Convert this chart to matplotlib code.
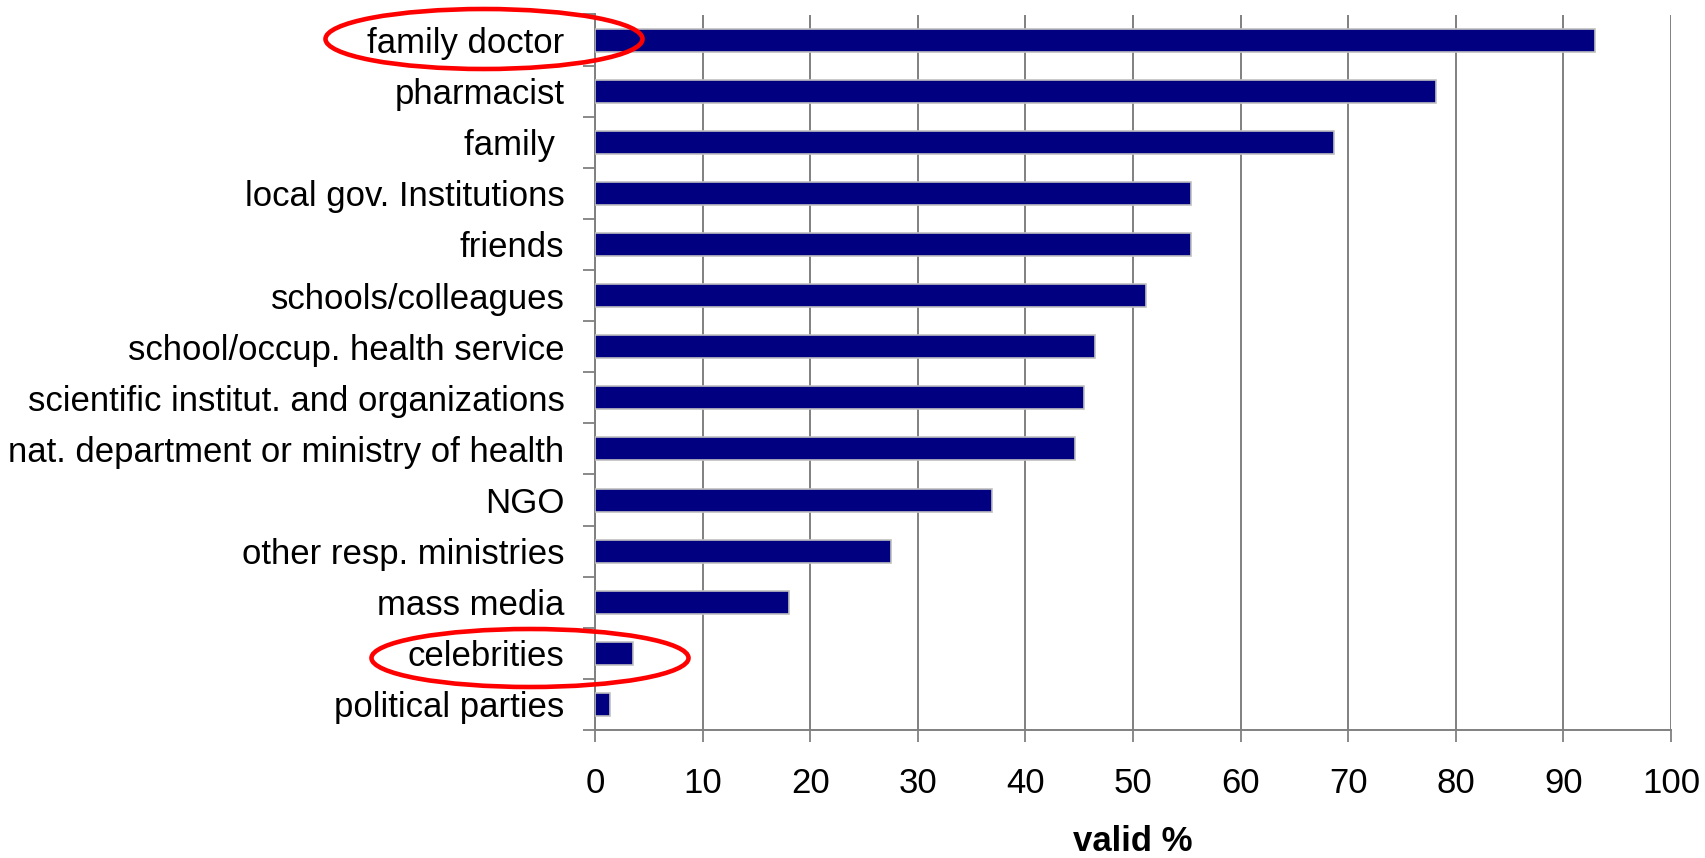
import matplotlib
matplotlib.use("Agg")
import matplotlib.pyplot as plt
from matplotlib.patches import Ellipse
from matplotlib.ticker import FixedLocator

categories = [
    "family doctor",
    "pharmacist",
    "family ",
    "local gov. Institutions",
    "friends",
    "schools/colleagues",
    "school/occup. health service",
    "scientific institut. and organizations",
    "nat. department or ministry of health",
    "NGO",
    "other resp. ministries",
    "mass media",
    "celebrities",
    "political parties",
]
values = [92.9, 78.2, 68.7, 55.4, 55.4, 51.2, 46.5, 45.4, 44.6, 36.9, 27.5, 18.0, 3.5, 1.4]
x_ticks = [0, 10, 20, 30, 40, 50, 60, 70, 80, 90, 100]
x_label = "valid %"

plt.rcParams['font.family'] = ['Liberation Sans', 'DejaVu Sans']

W, H = 1705, 858
fig = plt.figure(figsize=(W / 100, H / 100), dpi=100)
ax = fig.add_axes([595 / W, 1 - 730 / H, (1671 - 595) / W, (730 - 14.5) / H])

grey = "#808080"
n = len(categories)
pos = list(range(n))
ax.barh(pos, values, height=0.45, color="#000080", edgecolor="#c0c0c0",
        linewidth=1.2, zorder=3)

ax.set_ylim(n - 0.5, -0.5)
ax.set_xlim(0, 100)
ax.set_yticks(pos)
ax.set_yticklabels(categories, fontsize=25)
ax.yaxis.set_minor_locator(FixedLocator([i - 0.5 for i in range(n + 1)]))
ax.tick_params(axis='y', which='major', length=0, pad=22)
ax.tick_params(axis='y', which='minor', length=8.6, width=1.3, color=grey)
ax.set_xticks(x_ticks)
ax.set_xticklabels([str(t) for t in x_ticks], fontsize=25)
ax.tick_params(axis='x', which='major', length=8.6, width=1.3, color=grey, pad=18)

ax.set_axisbelow(True)
ax.grid(axis='x', color=grey, linewidth=1.4, zorder=0)
ax.grid(axis='y', visible=False)

for s in ['top', 'right']:
    ax.spines[s].set_visible(False)
for s in ['left', 'bottom']:
    ax.spines[s].set_color(grey)
    ax.spines[s].set_linewidth(1.4)

ax.set_xlabel(x_label, fontsize=25, fontweight='bold', labelpad=18)

# highlight ellipses (figure pixel coordinates -> fractions)
ell_specs = [
    (484, 39, 317, 60),
    (530, 658, 317, 58),
]
for cx, cy, w, h in ell_specs:
    e = Ellipse((cx / W, 1 - cy / H), w / W, h / H, transform=fig.transFigure,
                fill=False, edgecolor="#ff0000", linewidth=3.3, zorder=10)
    fig.add_artist(e)

fig.savefig("out.png", dpi=100)
